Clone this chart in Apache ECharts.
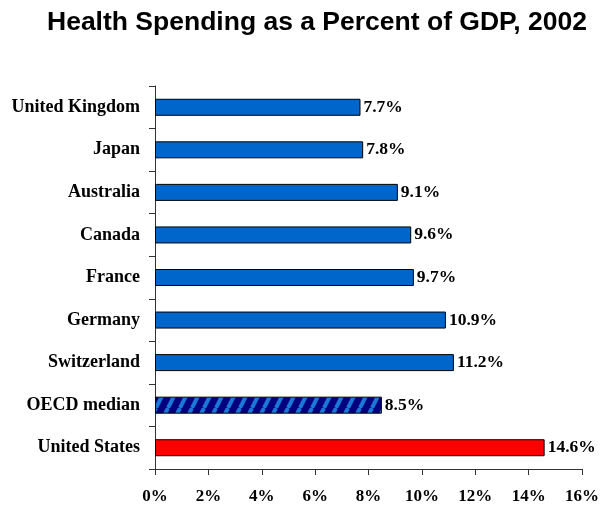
<!DOCTYPE html>
<html>
<head>
<meta charset="utf-8">
<script src="https://cdn.jsdelivr.net/npm/echarts@6/dist/echarts.min.js"></script>
<style>
  html, body { margin: 0; padding: 0; background: #fff; }
  #chart { width: 602px; height: 509px; }
</style>
</head>
<body>
<div id="chart"></div>
<script>
// Health spending as a share of GDP, 2002 (top to bottom)
const countries = ['United Kingdom', 'Japan', 'Australia', 'Canada', 'France',
                   'Germany', 'Switzerland', 'OECD median', 'United States'];
const spendingPct = [7.7, 7.8, 9.1, 9.6, 9.7, 10.9, 11.2, 8.5, 14.6];
const xTicks = [0, 2, 4, 6, 8, 10, 12, 14, 16];

// Diagonal hatch used for the OECD median bar
function makeHatch() {
  const w = 12, h = 24;
  const c = document.createElement('canvas');
  c.width = w; c.height = h;
  const ctx = c.getContext('2d');
  ctx.fillStyle = '#00007f';
  ctx.fillRect(0, 0, w, h);
  ctx.strokeStyle = '#1b78d6';
  ctx.lineWidth = 4;
  for (let k = -1; k <= 1; k++) {
    ctx.beginPath();
    ctx.moveTo(k * w, h);
    ctx.lineTo(k * w + w, 0);
    ctx.stroke();
  }
  return c;
}
const hatch = { image: makeHatch(), repeat: 'repeat' };

function barColor(name) {
  if (name === 'United States') return '#ff0000';
  if (name === 'OECD median') return hatch;
  return '#0066cc';
}

const seriesData = countries.map((name, i) => ({
  value: spendingPct[i],
  itemStyle: { color: barColor(name) }
}));

const serif = '"Liberation Serif", "Times New Roman", serif';

const chart = echarts.init(document.getElementById('chart'), null, { renderer: 'canvas' });
chart.setOption({
  animation: false,
  backgroundColor: '#ffffff',
  title: {
    text: 'Health Spending as a Percent of GDP, 2002',
    left: 47,
    top: 9,
    padding: 0,
    textStyle: {
      fontFamily: '"Liberation Sans", Arial, sans-serif',
      fontWeight: 'bold',
      fontSize: 26.5,
      color: '#000'
    }
  },
  grid: { left: 155, right: 18, top: 86, bottom: 40, containLabel: false },
  xAxis: {
    type: 'value',
    min: xTicks[0],
    max: xTicks[xTicks.length - 1],
    interval: 2,
    axisLine: { show: true, lineStyle: { color: '#333', width: 1 } },
    axisTick: { show: true, length: 6, lineStyle: { color: '#333' } },
    splitLine: { show: false },
    axisLabel: {
      margin: 19,
      formatter: v => v + '%',
      fontFamily: serif,
      fontWeight: 'bold',
      fontSize: 17,
      color: '#000'
    }
  },
  yAxis: {
    type: 'category',
    data: countries,
    inverse: true,
    axisLine: { show: true, lineStyle: { color: '#333', width: 1 } },
    axisTick: { show: true, length: 6, alignWithLabel: false, lineStyle: { color: '#333' } },
    axisLabel: {
      margin: 15,
      fontFamily: serif,
      fontWeight: 'bold',
      fontSize: 18,
      color: '#000'
    }
  },
  series: [{
    type: 'bar',
    data: seriesData,
    barWidth: 17,
    itemStyle: { borderColor: '#000', borderWidth: 1 },
    label: {
      show: true,
      position: 'right',
      distance: 3,
      formatter: p => p.value.toFixed(1) + '%',
      fontFamily: serif,
      fontWeight: 'bold',
      fontSize: 17.5,
      color: '#000'
    }
  }]
});
</script>
</body>
</html>
